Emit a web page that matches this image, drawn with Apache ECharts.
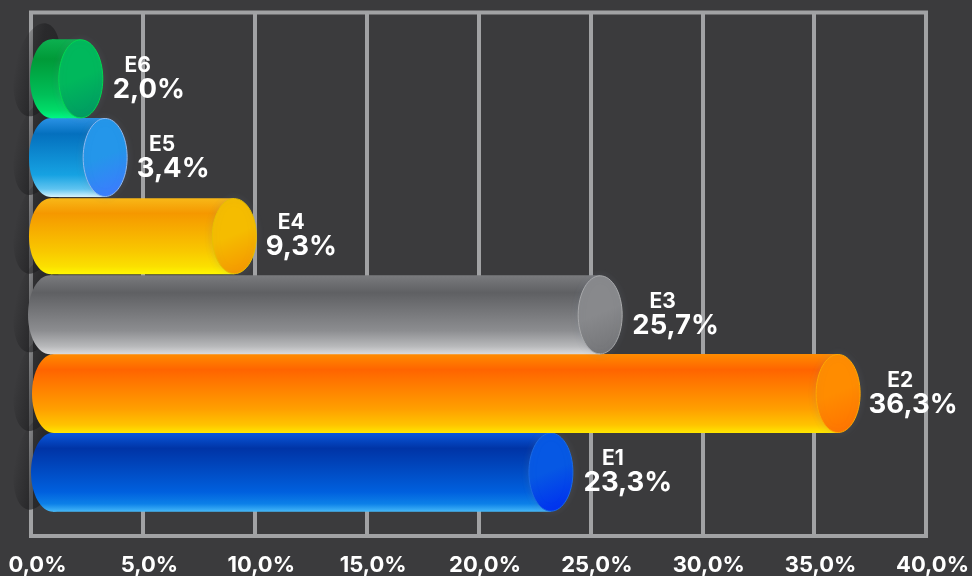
<!DOCTYPE html>
<html>
<head>
<meta charset="utf-8">
<style>html,body{margin:0;padding:0;background:#3b3b3d}#c{width:972px;height:576px}</style>
<script src="https://cdn.jsdelivr.net/npm/echarts@6/dist/echarts.min.js"></script>
</head>
<body>
<div id="c"></div>
<script>
const categories = ['E1', 'E2', 'E3', 'E4', 'E5', 'E6'];
const values = [23.3, 36.3, 25.7, 9.3, 3.4, 2.0];
const tickLabels = ['0,0%', '5,0%', '10,0%', '15,0%', '20,0%', '25,0%', '30,0%', '35,0%', '40,0%'];

// Hand-drawn offsets (px) seen in the reference, per bar.
const endNudge = [-2, -6, -6.5, -5, -2, 5];
const startNudge = [0, 1, -3, -2, -2, -1];
const labelNudge = [75, 69, 69, 62, 66, 73];
const nameNudge = [-15, -13, -13, -10, -11, -11];
const heightNudge = [0, 0, 0, -3, 0, 0];

const bodyStops = [
  [['#0a58dc', 0], ['#0034a6', .2], ['#0060de', .75], ['#0c80e8', .9], ['#45b8f8', 1]],
  [['#ff8c00', 0], ['#ff6400', .2], ['#ffa000', .7], ['#ffc400', .9], ['#ffe800', 1]],
  [['#7a7b7e', 0], ['#5f6063', .22], ['#8c8d90', .7], ['#b8b9bb', .9], ['#dcdcde', 1]],
  [['#f8b818', 0], ['#f59800', .2], ['#f9c800', .7], ['#fbe000', .9], ['#fff800', 1]],
  [['#2a92e6', 0], ['#0470be', .2], ['#16a2e2', .72], ['#60c4f0', .9], ['#d8f4fd', 1]],
  [['#0cb050', 0], ['#009a38', .25], ['#00bf58', .7], ['#00dc68', .9], ['#00f884', 1]]
];
const capColors = [
  ['#0658e4', '#0030f0', '#1a6ae4'],
  ['#ff8c00', '#ff7400', '#ffa800'],
  ['#88898c', '#747578', '#a8a9ab'],
  ['#f5bc00', '#f59800', '#e8c000'],
  ['#2496ea', '#3c7cff', '#8fb8ee'],
  ['#00b85c', '#009a62', '#00d850']
];

function grad(x, y, x2, y2, stops) {
  return { type: 'linear', x, y, x2, y2, colorStops: stops };
}

function barItem(params, api) {
  const i = api.value(0);
  const end = api.coord([api.value(1), i]);
  const start = api.coord([0, i]);
  const h = api.size([0, 1])[1] * 1.005 + heightNudge[i];
  const rx = 22, ry = h / 2;
  const cy = end[1];
  const x0 = start[0] + 22 + startNudge[i];
  const x1 = end[0] + endNudge[i];
  const fill = grad(0, 0, 0, 1, bodyStops[i].map(s => ({ color: s[0], offset: s[1] })));
  const cap = capColors[i];
  const shown = values[i].toFixed(1).replace('.', ',') + '%';
  return {
    type: 'group',
    children: [
      { type: 'ellipse', shape: { cx: x0, cy, rx, ry }, style: { fill } },
      { type: 'rect', shape: { x: x0, y: cy - ry, width: Math.max(x1 - x0, 0), height: h }, style: { fill } },
      {
        type: 'ellipse', shape: { cx: x1, cy, rx, ry: ry - 0.5 },
        style: {
          fill: grad(0.2, 0.1, 0.8, 0.95, [{ color: cap[0], offset: 0 }, { color: cap[0], offset: .45 }, { color: cap[1], offset: 1 }]),
          stroke: cap[2], lineWidth: 1, shadowBlur: 8, shadowColor: 'rgba(120,130,150,.2)'
        }
      },
      {
        type: 'text', x: end[0] + labelNudge[i] + nameNudge[i], y: cy - 13,
        style: { text: categories[i], fill: '#fff', font: '700 21px Inter', align: 'center', verticalAlign: 'middle' }
      },
      {
        type: 'text', x: end[0] + labelNudge[i], y: cy + 11,
        style: { text: shown, fill: '#fff', font: '700 27.5px Inter', align: 'center', verticalAlign: 'middle' }
      }
    ]
  };
}

function shadowItem(params, api) {
  const i = api.value(0);
  const start = api.coord([0, i]);
  const h = api.size([0, 1])[1];
  return {
    type: 'ellipse',
    x: start[0] + 6, y: start[1] - 9,
    rotation: -0.2,
    shape: { cx: 0, cy: 0, rx: 22, ry: h * 0.6 },
    style: {
      fill: grad(0, 0, 1, 0, [
        { color: 'rgba(30,30,32,0)', offset: 0 },
        { color: 'rgba(30,30,32,.6)', offset: 0.5 },
        { color: 'rgba(30,30,32,.7)', offset: 1 }
      ])
    }
  };
}

const rows = values.map((v, i) => [i, v]);
const chart = echarts.init(document.getElementById('c'), null, { renderer: 'canvas' });
chart.setOption({
  animation: false,
  backgroundColor: '#3b3b3d',
  grid: [
    { left: 31, right: 45, top: 12.5, bottom: 37.5, show: true, borderColor: '#a1a2a4', borderWidth: 4, backgroundColor: 'transparent' },
    { left: 31, right: 45, top: 39.5, bottom: 64.5 }
  ],
  xAxis: [
    {
      type: 'value', gridIndex: 0, min: 0, max: 40, interval: 5,
      axisLine: { show: false }, axisTick: { show: false },
      splitLine: { show: true, lineStyle: { color: '#a1a2a4', width: 4 } },
      axisLabel: {
        margin: 18, color: '#fff', fontFamily: 'Inter', fontWeight: 700, fontSize: 22,
        padding: [0, 0, 0, 13], hideOverlap: false, showMinLabel: true, showMaxLabel: true,
        formatter: (v) => tickLabels[Math.round(v / 5)]
      }
    },
    { type: 'value', gridIndex: 1, min: 0, max: 40, interval: 5, show: false }
  ],
  yAxis: [
    { type: 'value', gridIndex: 0, show: false, splitLine: { show: false } },
    { type: 'category', gridIndex: 1, data: categories, show: false }
  ],
  series: [
    { type: 'custom', xAxisIndex: 1, yAxisIndex: 1, z: 3, clip: false, renderItem: shadowItem, encode: { x: 1, y: 0 }, data: rows },
    { type: 'custom', xAxisIndex: 1, yAxisIndex: 1, z: 4, clip: false, renderItem: barItem, encode: { x: 1, y: 0 }, data: rows }
  ]
});
</script>
</body>
</html>
